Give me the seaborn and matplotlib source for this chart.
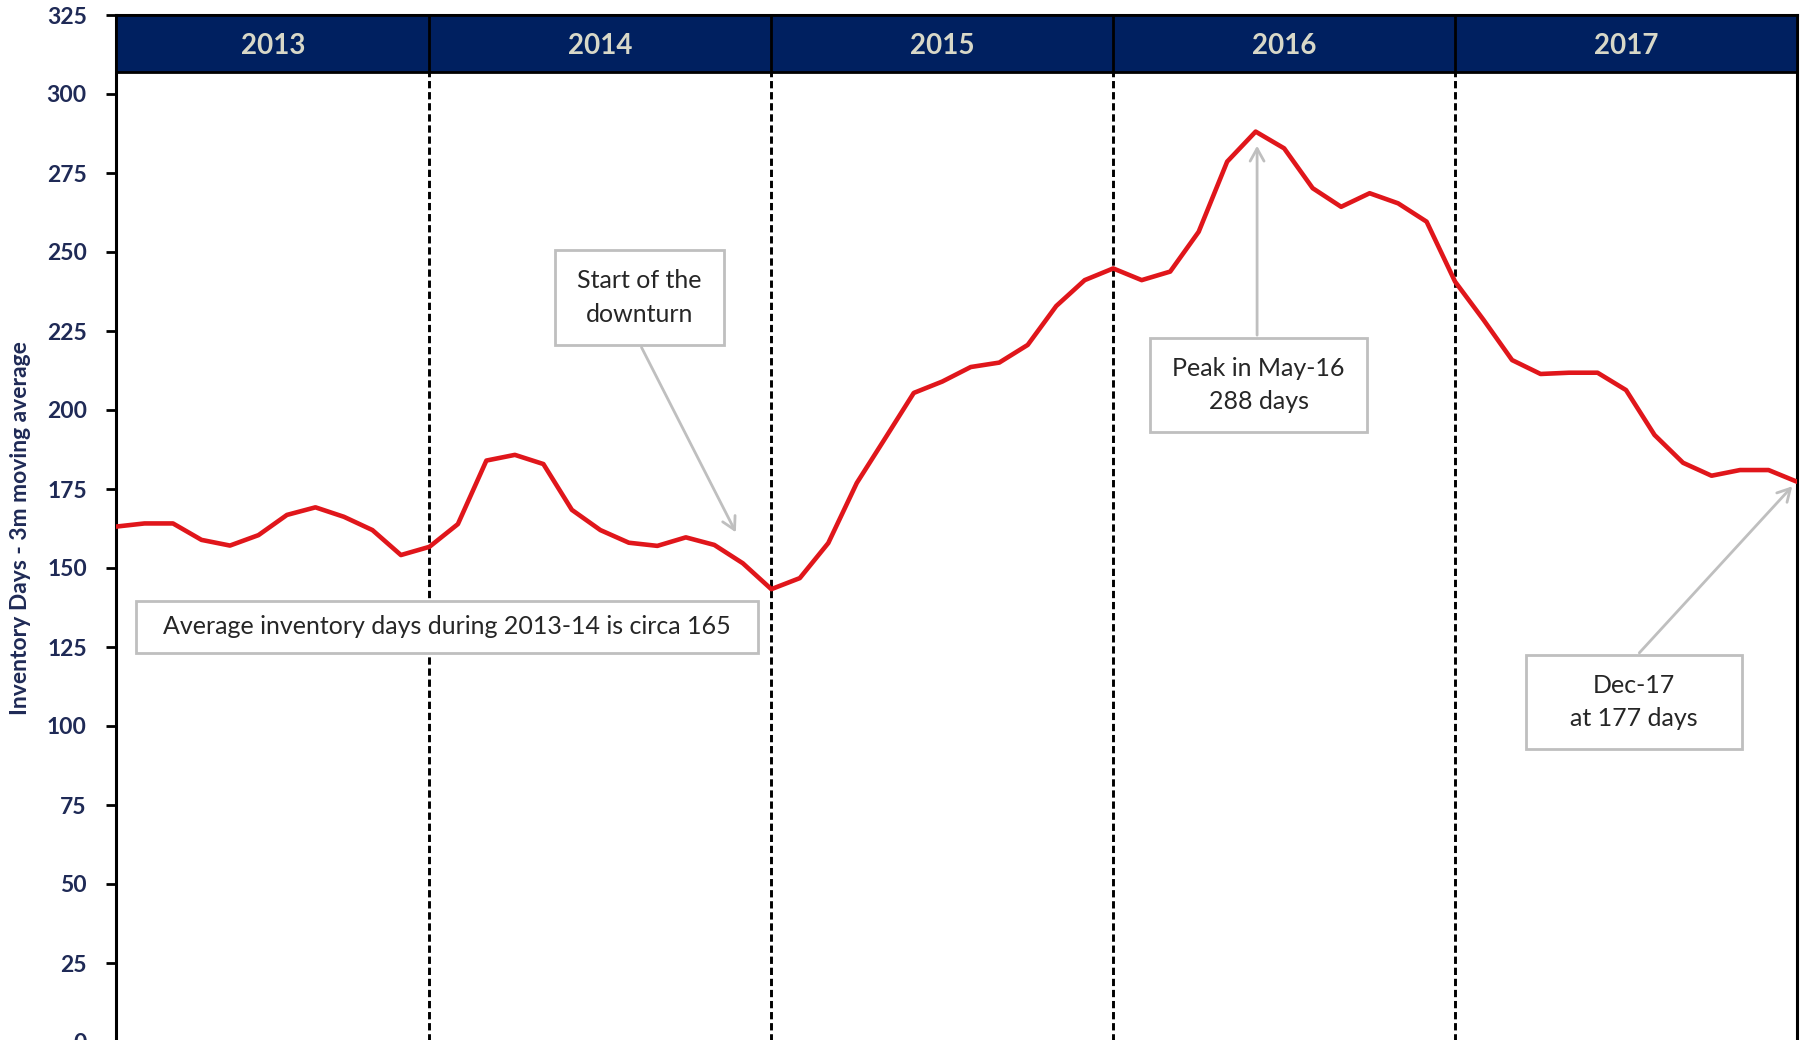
import matplotlib.pyplot as plt
import numpy as np
import pandas as pd
import seaborn as sns
from matplotlib.patches import Rectangle

# monthly inventory days, 3m moving average, Jan-13 .. Dec-17
inv_days = [163.1, 164.1, 164.1, 158.9, 157.1, 160.4, 166.8, 169.2, 166.2, 162.0, 154.1, 156.7,
            163.9, 184.0, 185.8, 182.9, 168.4, 162.0, 158.0, 157.0, 159.7, 157.3, 151.5, 143.3,
            146.8, 157.9, 176.9, 191.1, 205.4, 209.0, 213.6, 215.0, 220.6, 232.9, 241.1, 244.8,
            241.1, 243.8, 256.4, 278.6, 288.1, 282.8, 270.2, 264.3, 268.6, 265.4, 259.6, 240.6,
            228.5, 215.8, 211.4, 211.8, 211.8, 206.3, 192.1, 183.3, 179.2, 181.0, 181.0, 177.3]
years = ['2013', '2014', '2015', '2016', '2017']
yticks = [0, 25, 50, 75, 100, 125, 150, 175, 200, 225, 250, 275, 300, 325]

navy = '#002060'
tick_col = '#1F2A56'
box_grey = '#BFBFBF'
txt_col = '#262626'

sns.set_style('white')
plt.rcParams['font.family'] = ['Lato', 'DejaVu Sans']

df = pd.DataFrame({'Month': np.arange(len(inv_days)), 'Days': inv_days})

fig = plt.figure(figsize=(18.02, 10.40), dpi=100)
ax = fig.add_axes([116 / 1802, -2 / 1040, 1681 / 1802, 1027 / 1040])

sns.lineplot(data=df, x='Month', y='Days', ax=ax, color='#E0161B', linewidth=3.3, zorder=4)

ax.set_xlim(0, len(inv_days) - 1)
ax.set_ylim(0, 325)
ax.set_yticks(yticks)
ax.set_xticks([])
ax.set_xlabel('')
ax.set_ylabel('Inventory Days - 3m moving average', fontsize=16.5, fontweight='bold',
              color=tick_col, labelpad=11)
ax.tick_params(axis='y', left=True, length=7, width=2, color='black', labelsize=16.5, pad=14)
for lab in ax.get_yticklabels():
    lab.set_fontweight('bold')
    lab.set_color(tick_col)

for side in ['left', 'top', 'right']:
    ax.spines[side].set_color('black')
    ax.spines[side].set_linewidth(2.2)
ax.spines['bottom'].set_visible(False)

# header band with years
band_lo = 307
ax.axhspan(band_lo, 325, facecolor=navy, edgecolor='black', linewidth=2, zorder=5)
bounds = [11, 23, 35, 47]
for b in bounds:
    ax.plot([b, b], [0, band_lo], color='black', linewidth=2.1, linestyle=(0, (2.5, 1.3)), zorder=3)
    ax.plot([b, b], [band_lo, 325], color='black', linewidth=2, zorder=6)
edges = [0] + bounds + [len(inv_days) - 1]
for i, yr in enumerate(years):
    ax.text((edges[i] + edges[i + 1]) / 2, 315.3, yr, ha='center', va='center', fontsize=20,
            fontweight='bold', color='#D8D8C8', zorder=7)

arrow = dict(arrowstyle='->,head_length=0.9,head_width=0.5', color=box_grey, linewidth=2)


def note(x0, x1, y0, y1, text):
    ax.add_patch(Rectangle((x0, y0), x1 - x0, y1 - y0, facecolor='white', edgecolor=box_grey,
                           linewidth=2, zorder=8))
    ax.text((x0 + x1) / 2, (y0 + y1) / 2, text, ha='center', va='center', fontsize=18,
            color=txt_col, linespacing=1.55, zorder=9)


note(0.70, 22.53, 123.1, 139.6, 'Average inventory days during 2013-14 is circa 165')

ax.annotate('', xy=(21.8, 160.5), xytext=(18.4, 220.6), arrowprops=arrow, zorder=8)
note(15.41, 21.34, 220.6, 250.6, 'Start of the\ndownturn')

ax.annotate('', xy=(40.05, 284.5), xytext=(40.05, 222.8), arrowprops=arrow, zorder=8)
note(36.29, 43.91, 193.0, 222.8, 'Peak in May-16\n288 days')

ax.annotate('', xy=(58.9, 176.5), xytext=(53.4, 122.5), arrowprops=arrow, zorder=8)
note(49.49, 57.07, 92.7, 122.5, 'Dec-17\nat 177 days')

fig.savefig('out.png', dpi=100)
